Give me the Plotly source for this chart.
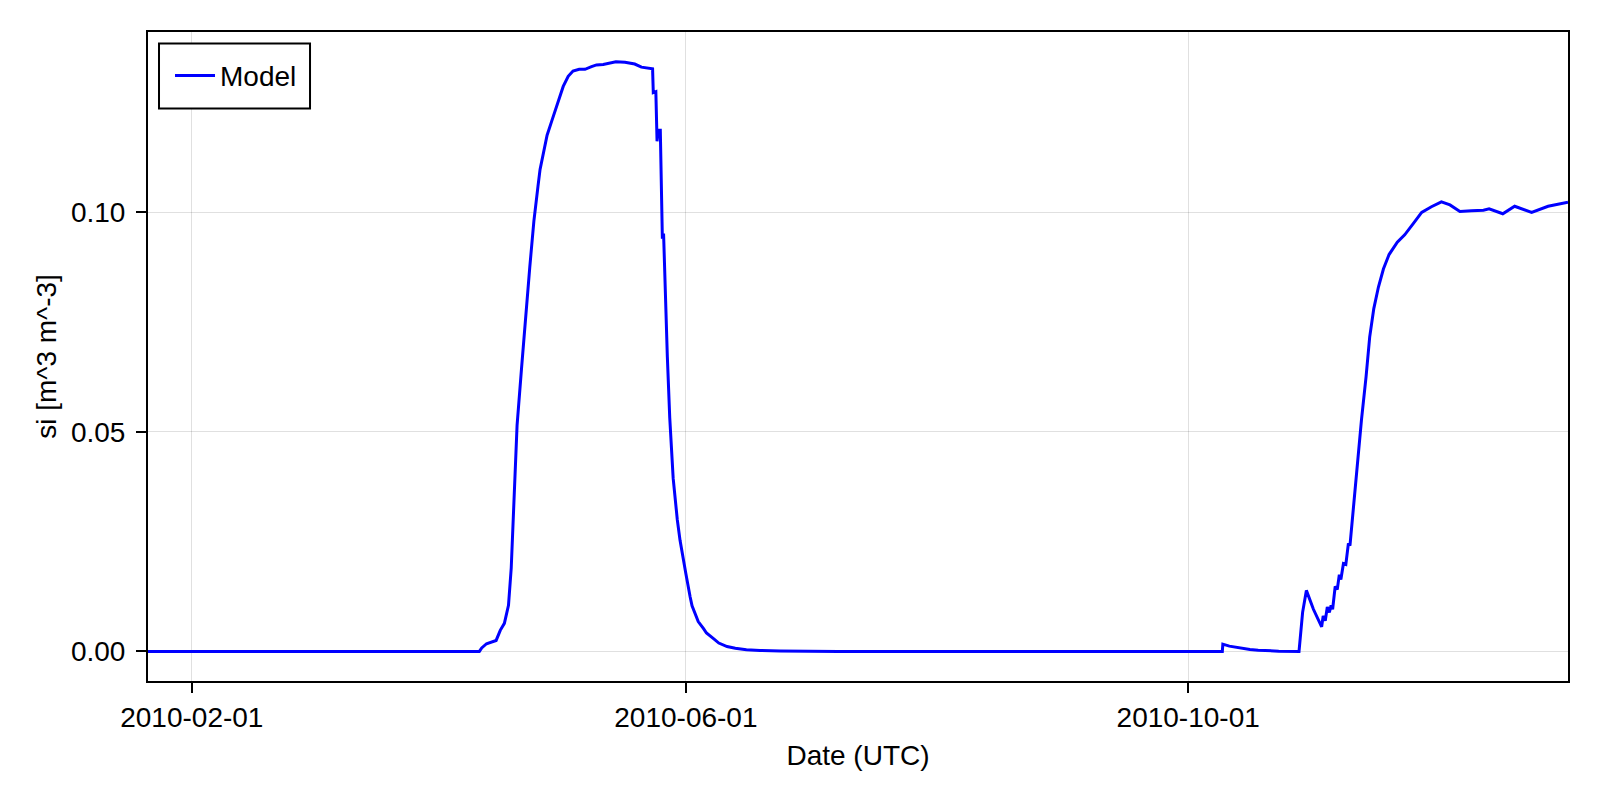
import plotly.graph_objects as go

# ---- data ----
dates = [
    "2010-01-21 08:40", "2010-04-11 20:00", "2010-04-12 10:00", "2010-04-13 14:00",
    "2010-04-15 22:00", "2010-04-16 22:00", "2010-04-17 22:00", "2010-04-18 22:00",
    "2010-04-19 14:00", "2010-04-20 05:00", "2010-04-21 00:00", "2010-04-22 02:00",
    "2010-04-23 02:00", "2010-04-24 02:00", "2010-04-25 02:00", "2010-04-25 14:00",
    "2010-04-26 02:00", "2010-04-26 14:00",
    "2010-04-27 07:00", "2010-04-28 07:00", "2010-04-29 10:00", "2010-04-30 05:00",
    "2010-05-01 05:00", "2010-05-02 05:00", "2010-05-03 10:00", "2010-05-04 14:00",
    "2010-05-06 02:00", "2010-05-07 12:00", "2010-05-09 02:00", "2010-05-10 07:00",
    "2010-05-11 22:00", "2010-05-13 12:00", "2010-05-15 00:00", "2010-05-17 05:00",
    "2010-05-19 14:00", "2010-05-21 05:00", "2010-05-23 22:00", "2010-05-24 02:00",
    "2010-05-24 17:00", "2010-05-25 00:00", "2010-05-25 07:00", "2010-05-25 19:00",
    "2010-05-26 07:00", "2010-05-26 14:00", "2010-05-27 02:00", "2010-05-27 12:00",
    "2010-05-28 02:00", "2010-05-28 22:00", "2010-05-29 22:00", "2010-05-30 14:00",
    "2010-06-01 00:00", "2010-06-01 12:00", "2010-06-02 01:00", "2010-06-02 12:00",
    "2010-06-03 06:00", "2010-06-04 00:00", "2010-06-05 07:00", "2010-06-06 00:00",
    "2010-06-07 17:00", "2010-06-09 00:00", "2010-06-11 00:00", "2010-06-13 00:00",
    "2010-06-15 17:00", "2010-06-19 00:00", "2010-06-23 22:00", "2010-06-30 00:00",
    "2010-07-08 00:00", "2010-10-09 07:00", "2010-10-09 10:00", "2010-10-11 00:00",
    "2010-10-12 17:00", "2010-10-14 12:00", "2010-10-16 00:00", "2010-10-18 00:00",
    "2010-10-20 00:00", "2010-10-23 00:00", "2010-10-27 22:00", "2010-10-28 19:00",
    "2010-10-29 17:00", "2010-10-31 10:00", "2010-11-02 10:00", "2010-11-02 19:00",
    "2010-11-03 07:00", "2010-11-03 19:00", "2010-11-04 07:00", "2010-11-04 17:00",
    "2010-11-05 02:00", "2010-11-05 17:00", "2010-11-06 05:00", "2010-11-06 17:00",
    "2010-11-07 02:00", "2010-11-07 17:00", "2010-11-08 07:00", "2010-11-08 22:00",
    "2010-11-09 07:00", "2010-11-10 02:00", "2010-11-11 02:00", "2010-11-12 02:00",
    "2010-11-13 05:00", "2010-11-14 02:00", "2010-11-15 02:00", "2010-11-16 05:00",
    "2010-11-17 10:00", "2010-11-18 19:00", "2010-11-20 19:00", "2010-11-22 14:00",
    "2010-11-24 17:00", "2010-11-26 17:00", "2010-11-29 02:00", "2010-12-01 12:00",
    "2010-12-03 14:00", "2010-12-06 00:00", "2010-12-08 19:00", "2010-12-11 17:00",
    "2010-12-13 02:00", "2010-12-16 10:00", "2010-12-19 07:00", "2010-12-23 10:00",
    "2010-12-27 10:00", "2010-12-31 22:00", "2011-01-01 06:00",
]
si_model = [
    0.0, 0.0, 0.0008, 0.00175,
    0.0025, 0.0048, 0.0064, 0.0105,
    0.0190, 0.0347, 0.0515, 0.0645,
    0.0764, 0.0875, 0.0980, 0.1025,
    0.1060, 0.1098,
    0.1134, 0.1176, 0.1208, 0.1231,
    0.1259, 0.1287, 0.1310, 0.1322,
    0.1326, 0.1326, 0.1332, 0.1336,
    0.1337, 0.1340, 0.1343, 0.1342,
    0.1338, 0.1331, 0.1327, 0.1273,
    0.1275, 0.1162, 0.1187, 0.1187,
    0.0940, 0.0952, 0.0764, 0.0671,
    0.0532, 0.0394, 0.0300, 0.0253,
    0.0177, 0.0148, 0.0124, 0.0104,
    0.0086, 0.0068, 0.0052, 0.0042,
    0.0029, 0.0019, 0.0011, 0.0007,
    0.0004, 0.0002, 0.0001, 0.00003,
    0.0, 0.0, 0.00166, 0.0012,
    0.0009, 0.0006, 0.00045, 0.00028,
    0.00015, 0.00006, 0.0, 0.0089,
    0.0139, 0.0096, 0.0056, 0.0081,
    0.0070, 0.0101, 0.0089, 0.0105,
    0.0096, 0.0148, 0.0141, 0.0175,
    0.0164, 0.0200, 0.0198, 0.0246,
    0.0241, 0.0327, 0.0429, 0.0527,
    0.0626, 0.0716, 0.0781, 0.0830,
    0.0871, 0.0904, 0.0932, 0.0949,
    0.0975, 0.1000, 0.1013, 0.1024,
    0.1017, 0.1002, 0.1004, 0.1005,
    0.1008, 0.0997, 0.1014, 0.1000,
    0.1014, 0.1022, 0.1023,
]
x_tickvals = ["2010-02-01", "2010-06-01", "2010-10-01"]
x_ticktext = ["2010-02-01", "2010-06-01", "2010-10-01"]
y_tickvals = [0.0, 0.05, 0.10]
x_range = ["2010-01-21 08:40", "2011-01-01 06:00"]
y_range = [-0.00674, 0.1411]

FONT = "Liberation Sans, Arial, Helvetica, sans-serif"
FS = 28
GRID = "rgba(0,0,0,0.12)"

fig = go.Figure()
fig.add_trace(go.Scatter(
    x=dates, y=si_model, mode="lines", name="Model",
    line=dict(color="#0000ff", width=3),
))

# legend frame (Makie-style box, larger padding than plotly's default)
fig.add_shape(
    type="rect", xref="paper", yref="paper",
    x0=0.00775, x1=0.1141, y0=0.8823, y1=0.9824,
    line=dict(color="black", width=2), fillcolor="white", layer="above",
)

fig.update_layout(
    width=1584, height=784,
    margin=dict(l=140, r=24, t=24, b=111),
    paper_bgcolor="white", plot_bgcolor="white",
    font=dict(family=FONT, size=FS, color="black"),
    showlegend=True,
    legend=dict(
        x=0.0155, y=0.9324, xanchor="left", yanchor="middle",
        borderwidth=0, bgcolor="rgba(0,0,0,0)", itemwidth=40,
        font=dict(family=FONT, size=FS, color="black"),
    ),
    xaxis=dict(
        type="date", range=x_range,
        tickvals=x_tickvals, ticktext=x_ticktext,
        showgrid=True, gridcolor=GRID, gridwidth=1.3,
        showline=True, linecolor="black", linewidth=2, mirror=True,
        ticks="outside", ticklen=10, tickwidth=1.5, tickcolor="black",
        zeroline=False,
        title=dict(text="Date (UTC)", font=dict(family=FONT, size=FS), standoff=14),
        tickfont=dict(family=FONT, size=FS),
    ),
    yaxis=dict(
        range=y_range, tickvals=y_tickvals, tickformat=".2f",
        showgrid=True, gridcolor=GRID, gridwidth=1.3,
        showline=True, linecolor="black", linewidth=2, mirror=True,
        ticks="outside", ticklen=10, tickwidth=1.5, tickcolor="black",
        ticklabelstandoff=5,
        zeroline=False,
        title=dict(text="si [m^3 m^-3]", font=dict(family=FONT, size=FS), standoff=6),
        tickfont=dict(family=FONT, size=FS),
    ),
)

fig.write_html("out.html")
